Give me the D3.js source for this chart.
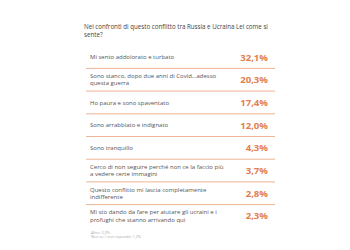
<!DOCTYPE html>
<html><head><meta charset="utf-8">
<script src="https://cdn.jsdelivr.net/npm/d3@7"></script>
<style>html,body{margin:0;padding:0;background:#fff;}svg{display:block;}</style>
</head><body>
<svg id="c" width="350" height="250"></svg>
<script>
const title = ["Nei confronti di questo conflitto tra Russia e Ucraina Lei come si", "sente?"];
const categories = [
  ["Mi sento addolorato e turbato"],
  ["Sono stanco, dopo due anni di Covid…adesso", "questa guerra"],
  ["Ho paura e sono spaventato"],
  ["Sono arrabbiato e indignato"],
  ["Sono tranquillo"],
  ["Cerco di non seguire perché non ce la faccio più", "a vedere certe immagini"],
  ["Questo conflitto mi lascia completamente", "indifferente"],
  ["Mi sto dando da fare per aiutare gli ucraini e i", "profughi che stanno arrivando qui"]
];
const values = [32.1, 20.3, 17.4, 12.0, 4.3, 3.7, 2.8, 2.3];
const footnotes = ["Altro: 2,0%", "Non so / non risponde: 1,2%"];

const svg = d3.select("#c");
const font = "'Open Sans', 'DejaVu Sans', sans-serif";
const loc = d3.formatLocale({decimal: ",", thousands: ".", grouping: [3], currency: ["", "€"]});
const fmt = v => loc.format(".1f")(v) + "%";

const y = d3.scaleBand().domain(d3.range(categories.length)).range([45.7, 227.3]);
const x0 = 86, x1 = 275;

// title
svg.append("g").selectAll("text").data(title).join("text")
  .attr("x", 84).attr("y", (d, i) => 28.8 + i * 8.4)
  .attr("font-family", font).attr("font-size", 6.2).attr("fill", "#444")
  .text(d => d);

const rows = svg.append("g").selectAll("g").data(categories).join("g")
  .attr("transform", (d, i) => `translate(0,${y(i) + y.bandwidth() / 2})`);

rows.each(function(lines, i) {
  const g = d3.select(this);
  const lh = 7.2;
  const start = -(lines.length - 1) * lh / 2;
  g.selectAll("text.l").data(lines).join("text").attr("class", "l")
    .attr("x", 90).attr("y", (d, j) => start + j * lh)
    .attr("dy", "0.35em")
    .attr("font-family", font).attr("font-size", 6.0).attr("fill", "#555")
    .text(d => d);
  g.append("text")
    .attr("x", 268).attr("y", 0).attr("dy", "0.36em")
    .attr("text-anchor", "end")
    .attr("font-family", font).attr("font-size", 9.6).attr("font-weight", "bold")
    .attr("fill", "#e2804f")
    .text(fmt(values[i]));
});

// separators
svg.append("g").selectAll("line").data(d3.range(1, categories.length)).join("line")
  .attr("x1", x0).attr("x2", x1)
  .attr("y1", d => y(d)).attr("y2", d => y(d))
  .attr("stroke", "#eeb596").attr("stroke-width", 1);

// footnotes
svg.append("g").selectAll("text").data(footnotes).join("text")
  .attr("x", 91).attr("y", (d, i) => 233.5 + i * 4.8)
  .attr("font-family", font).attr("font-size", 3.8).attr("fill", "#aaa")
  .text(d => d);
</script>
</body></html>
